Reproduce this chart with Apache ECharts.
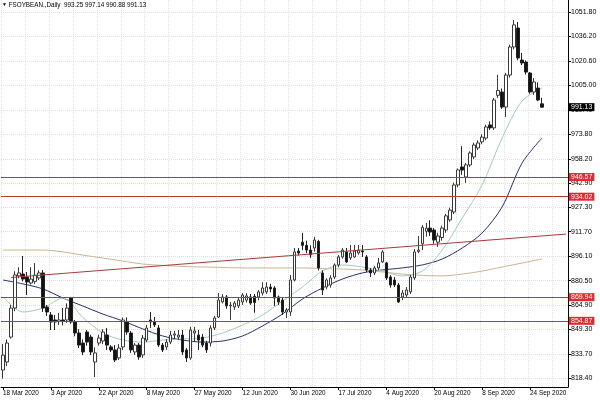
<!DOCTYPE html>
<html><head><meta charset="utf-8">
<script src="https://cdn.jsdelivr.net/npm/echarts@6/dist/echarts.min.js"></script>
<style>html,body{margin:0;padding:0;background:#fff}#c{width:600px;height:400px}</style>
</head><body><div id="c"></div>
<script>
// Trading days (categories)
const dates = [
'18 Mar 2020','19 Mar 2020','20 Mar 2020','23 Mar 2020','24 Mar 2020','25 Mar 2020','26 Mar 2020','27 Mar 2020','30 Mar 2020','31 Mar 2020',
'1 Apr 2020','2 Apr 2020','3 Apr 2020','6 Apr 2020','7 Apr 2020','8 Apr 2020','9 Apr 2020','13 Apr 2020','14 Apr 2020','15 Apr 2020','16 Apr 2020','17 Apr 2020','20 Apr 2020','21 Apr 2020','22 Apr 2020','23 Apr 2020','24 Apr 2020','27 Apr 2020','28 Apr 2020','29 Apr 2020','30 Apr 2020',
'1 May 2020','4 May 2020','5 May 2020','6 May 2020','7 May 2020','8 May 2020','11 May 2020','12 May 2020','13 May 2020','14 May 2020','15 May 2020','18 May 2020','19 May 2020','20 May 2020','21 May 2020','22 May 2020','26 May 2020','27 May 2020','28 May 2020','29 May 2020',
'1 Jun 2020','2 Jun 2020','3 Jun 2020','4 Jun 2020','5 Jun 2020','8 Jun 2020','9 Jun 2020','10 Jun 2020','11 Jun 2020','12 Jun 2020','15 Jun 2020','16 Jun 2020','17 Jun 2020','18 Jun 2020','19 Jun 2020','22 Jun 2020','23 Jun 2020','24 Jun 2020','25 Jun 2020','26 Jun 2020','29 Jun 2020','30 Jun 2020',
'1 Jul 2020','2 Jul 2020','6 Jul 2020','7 Jul 2020','8 Jul 2020','9 Jul 2020','10 Jul 2020','13 Jul 2020','14 Jul 2020','15 Jul 2020','16 Jul 2020','17 Jul 2020','20 Jul 2020','21 Jul 2020','22 Jul 2020','23 Jul 2020','24 Jul 2020','27 Jul 2020','28 Jul 2020','29 Jul 2020','30 Jul 2020','31 Jul 2020',
'3 Aug 2020','4 Aug 2020','5 Aug 2020','6 Aug 2020','7 Aug 2020','10 Aug 2020','11 Aug 2020','12 Aug 2020','13 Aug 2020','14 Aug 2020','17 Aug 2020','18 Aug 2020','19 Aug 2020','20 Aug 2020','21 Aug 2020','24 Aug 2020','25 Aug 2020','26 Aug 2020','27 Aug 2020','28 Aug 2020','31 Aug 2020',
'1 Sep 2020','2 Sep 2020','3 Sep 2020','4 Sep 2020','8 Sep 2020','9 Sep 2020','10 Sep 2020','11 Sep 2020','14 Sep 2020','15 Sep 2020','16 Sep 2020','17 Sep 2020','18 Sep 2020','21 Sep 2020','22 Sep 2020','23 Sep 2020','24 Sep 2020','25 Sep 2020','28 Sep 2020','29 Sep 2020'
];
const emptySlots = ['e1','e2','e3','e4','e5','e6'];

const openP = [823.5,828.6,844.5,863,883.5,884.7,882.8,879,880,882.2,885.4,863.7,858.6,855.4,854.5,855.4,855.4,869.4,854.1,847.1,
840.7,847.7,844.5,828.6,840.7,842,845.8,838.2,836.3,831.2,838.2,854.1,847.1,835,839.4,833.1,842.6,855.4,854.1,850.3,
839.4,838.2,841.3,845.8,844.5,845.8,836.3,831.2,847.1,845.8,844.5,840.7,840.7,850.3,857.3,866.9,870.1,864.4,863.7,864.4,
866.9,868.1,870.1,870.5,870.1,872.6,873.3,876.4,875.8,870.1,868.1,860.5,860.5,880.9,899.4,905,903,900,901.3,905.5,
885.4,876.4,877.7,882.8,890.5,895.6,898.8,895,895.6,898.1,899.4,895.6,887.3,885.4,888.6,892.4,891.8,882.8,880.9,877.7,
870.1,871.3,873.3,882.2,899,904,912,914,912.8,905,908,912.8,919.2,924.3,941.5,953,946.6,954.3,959.4,965.1,
969,971.4,979.8,977.9,998.7,1000.8,991.2,1011.6,1029.5,1041.6,1021.2,1019.9,1012.9,1000.8,1003.3,993.25];
const highP = [840,843,865,886.5,889,896.2,886,889,891.7,887,887.3,865,860.5,858.6,859.9,863,866,870.1,855.4,849.5,
843,849,846,838,846,849.5,850.3,839.4,839.4,840,857,857,848.4,840.7,840.7,845.8,852.2,860.5,857.3,852.2,
840.7,843.2,848.4,848.4,849,849,837.5,851,851,849,846.5,842,852,858,872.6,871.9,871.3,866.9,867.5,869.5,
872.5,872.5,872,872,874.5,879.5,879.5,878.5,877,871,870.1,863,884,901.3,901.3,911,906,903,908.5,906.5,
887,882,884,891.5,896.8,901.3,901.3,903.2,903.2,903.2,903.2,896.8,888.6,889.9,894.9,900,892.4,884,882.8,879,
874.5,876.4,884,900.6,909,916,917.3,919,914,911,915.5,923,927,943,952,966.2,955.5,963,968.5,970,
973.8,980,982,997,1011.7,1003,1013,1031,1046.7,1045.5,1025.7,1021,1013.5,1009.7,1007,997.14];
const lowP = [818,826,843.5,861,882,880,871.3,878,878.5,880.9,860.5,858,849,849,852.2,852,853.5,853,845,837.5,
833,839,833,819,839,840,836.3,835,828.6,829.9,836.3,846,834.4,833.1,830,831.2,841.3,850.3,850.9,838.2,
835,836.3,840,843.2,842.6,833.1,828.6,830,841.3,836.3,838,834.4,838.5,849,856.7,866,862.5,855.4,861.8,863,
865,866.5,865,860,868,871,872,873,864.4,865,858.6,856.7,858,880,896.5,900,898,895,899,887,
871.3,875,876,881.5,889,894.5,891.8,893.7,895,897,895.6,886,882.8,884,887.3,891.8,880.9,876,876.4,866.2,
868.1,870.1,872,881,898,900,908.5,909,904,902,906,911,918,923,940,948,942.8,953,958,963.8,
967.5,970,976.6,976.6,997,990,984.9,1010,1028,1021,1018,1012,999.7,999,995,990.88];
const closeP = [833,840.7,863,884.1,885.4,881.5,879.6,881.5,884,885.4,863,860.5,854.1,854.1,855.4,854.5,863,854.1,847.1,839.4,
835,841.3,835,834.4,843.9,847.7,839.4,836.3,829.9,837.5,855.4,847.7,836.3,839.4,831.8,843.9,850.3,854.1,852.2,839.4,
836.3,841.3,845.8,846.5,845.8,835,831.2,849,848.4,842.6,839.4,836.3,850.3,856.7,868.1,870.1,864.4,864.9,866.2,868.1,
871.3,870.7,866.2,866.5,873.3,875.8,876.4,875.2,869.4,866.9,860.5,861.8,880.9,898.8,898.1,903,900,897,906.4,888.6,
874.5,880.9,882.2,890.5,895.6,900,892.4,898.1,899.4,900,898.8,887.3,885.4,888.6,891.8,898.8,882.2,877.7,877.7,866.9,
872.6,874.5,882.8,898.8,900,914.5,914,911.5,906.4,909,914,921.8,925.5,941.5,951.1,951,954.3,961.9,967,968.3,
972,978.5,977.9,995.7,1001.8,991.2,1011.6,1029.5,1043.6,1022.5,1019.3,1013.5,1000.8,1007.2,995.7,991.13];

// Moving averages at every 5th bar
const maIdx = [0,5,10,15,20,25,30,35,40,45,50,55,60,65,70,75,80,85,90,95,100,105,110,115,120,125,130,135];
const maFast = [870.1,860.5,863,869.4,857,847.1,842.6,841.3,842.6,843.3,843.9,847.1,852.2,858.6,867.5,876.4,886.6,890.5,889.2,886.6,883.5,886.6,900.0,920.4,941.5,971.5,995.1,1003.4];
const maMid = [880.9,878.4,875.2,869.4,864.3,859.2,854.8,849.7,845.2,842.6,841.3,842.0,845.2,851.6,859.2,868.8,875.8,881.5,885.4,887.3,888.6,890.5,894.3,901.3,910.9,927.5,955.5,971.5];
const maSlow = [900.0,900.0,900.0,898.8,896.8,894.9,893.0,891.1,890.2,889.5,889.2,888.9,888.6,888.6,888.6,888.6,888.2,887.9,887.3,886.0,884.7,883.8,883.5,884.7,886.6,889.2,891.7,894.3];

// Levels and trend line
const levels = [946.57, 934.02, 869.94, 854.87];
const lastPrice = 991.13;
const trendStart = [2, 882.5];
const trendEnd = [141, 910.2];

// Price axis ticks
const yTicks = [818.40,833.70,849.30,864.90,880.50,896.10,911.70,927.30,942.90,958.20,973.80,989.40,1005.00,1020.60,1036.20,1051.80];
const yMin = 812.66, yMax = 1059.47;

const FONT = 'Liberation Sans';
const FS = 7;
const FSX = 6.4;
const cats = dates.concat(emptySlots);
const nReal = dates.length;
const candles = openP.map((o, i) => [o, closeP[i], lowP[i], highP[i]]);
const pairs = arr => maIdx.map((ix, k) => [ix, arr[k]]);
const labelShown = i => i % 12 === 0 && i < nReal;

const chart = echarts.init(document.getElementById('c'), null, {renderer: 'canvas'});
const lvlLabel = (bg) => ({
  show: true, position: 'end', distance: 1, color: '#fff', backgroundColor: bg,
  fontSize: FS, fontFamily: FONT, padding: [1, 2, 0, 2], formatter: p => p.value.toFixed(2)
});
chart.setOption({
  animation: false,
  backgroundColor: '#fff',
  title: {
    text: '{t|▼} FSOYBEAN.,Daily  993.25 997.14 990.88 991.13',
    left: 2, top: 2, padding: 0,
    textStyle: {fontSize: 6.3, fontWeight: 'normal', color: '#000', fontFamily: FONT,
      rich: {t: {fontSize: 5, color: '#000'}}}
  },
  grid: {left: 0, right: 32, top: 0, bottom: 13},
  xAxis: {
    type: 'category', data: cats, boundaryGap: true,
    axisLine: {show: true, lineStyle: {color: '#000', width: 1}},
    axisTick: {show: true, interval: labelShown, alignWithLabel: true, length: 3, lineStyle: {color: '#000'}},
    axisLabel: {interval: labelShown, align: 'left', margin: 3, fontSize: FSX, fontFamily: FONT, color: '#000'},
    splitLine: {show: true, interval: i => i % 6 === 0, lineStyle: {color: '#e0e0e0', type: [1, 1], width: 1}}
  },
  yAxis: {
    type: 'value', position: 'right', min: yMin, max: yMax,
    axisLine: {show: true, lineStyle: {color: '#000', width: 1}},
    axisTick: {show: true, customValues: yTicks, length: 3, lineStyle: {color: '#000'}},
    axisLabel: {customValues: yTicks, formatter: v => v.toFixed(2), margin: 3, fontSize: FS, fontFamily: FONT, color: '#000'},
    splitLine: {show: true, lineStyle: {color: '#e0e0e0', type: [1, 1], width: 1}}
  },
  series: [
    {type: 'line', name: 'slow', data: pairs(maSlow), symbol: 'none', smooth: 0.3, z: 3,
     lineStyle: {color: '#c9b68f', width: 1}},
    {type: 'line', name: 'mid', data: pairs(maMid), symbol: 'none', smooth: 0.3, z: 3,
     lineStyle: {color: '#27306e', width: 1}},
    {type: 'line', name: 'fast', data: pairs(maFast), symbol: 'none', smooth: 0.3, z: 3,
     lineStyle: {color: '#9fcdc0', width: 1}},
    {type: 'candlestick', name: 'price', data: candles, barWidth: 3, z: 4,
     itemStyle: {color: '#fff', color0: '#111', borderColor: '#3a3a3a', borderColor0: '#222', borderWidth: 1},
     markLine: {
       symbol: 'none', silent: true, animation: false,
       data: levels.map(v => ({yAxis: v, lineStyle: {color: '#b83a35', width: 1, type: 'solid'}, label: lvlLabel('#e8262b')}))
         .concat([{yAxis: lastPrice, lineStyle: {color: 'rgba(0,0,0,0)', width: 1}, label: lvlLabel('#000')}])
         .concat([[{coord: trendStart, lineStyle: {color: '#a83a3a', width: 1, type: 'solid'}, label: {show: false}}, {coord: trendEnd}]])
     }
    }
  ]
});
</script>
</body></html>
